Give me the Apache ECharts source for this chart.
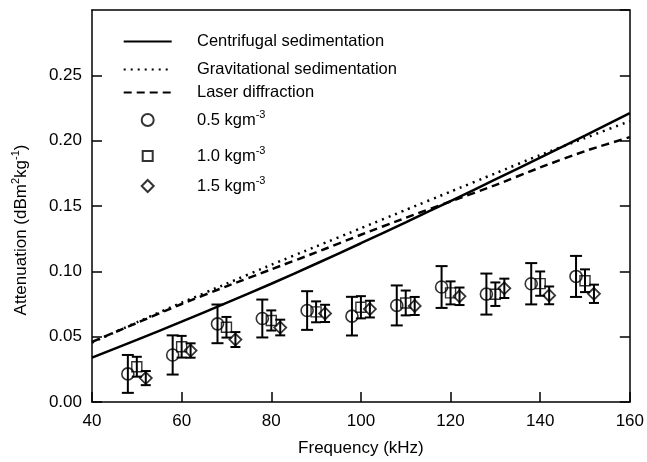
<!DOCTYPE html>
<html>
<head>
<meta charset="utf-8">
<script src="https://cdn.jsdelivr.net/npm/echarts@6/dist/echarts.min.js"></script>
<style>
html,body{margin:0;padding:0;background:#fff;}
#chart{width:647px;height:462px;}
</style>
</head>
<body>
<div id="chart"></div>
<script>
// ---- data ----
var curveX = [40, 50, 60, 70, 80, 90, 100, 110, 120, 130, 140, 150, 160];
var centrifugal = [0.034, 0.0475, 0.0615, 0.0758, 0.0905, 0.1058, 0.1215, 0.1375, 0.1538, 0.1703, 0.187, 0.2039, 0.221];
var gravitational = [0.0455, 0.061, 0.076, 0.0905, 0.105, 0.119, 0.133, 0.147, 0.161, 0.175, 0.189, 0.202, 0.215];
var laser = [0.046, 0.0605, 0.075, 0.0885, 0.1015, 0.1145, 0.128, 0.141, 0.1535, 0.166, 0.1795, 0.192, 0.2027];

var xCircle = [48, 58, 68, 78, 88, 98, 108, 118, 128, 138, 148];
var yCircle = [0.0215, 0.036, 0.0598, 0.0639, 0.0700, 0.0657, 0.0739, 0.0880, 0.0826, 0.0905, 0.0961];
var eCircle = [0.0145, 0.0150, 0.0148, 0.0145, 0.0148, 0.0148, 0.0153, 0.0160, 0.0157, 0.0158, 0.0157];

var xSquare = [50, 60, 70, 80, 90, 100, 110, 120, 130, 140, 150];
var ySquare = [0.0270, 0.0423, 0.0572, 0.0624, 0.0690, 0.0725, 0.0758, 0.0835, 0.0825, 0.0906, 0.0928];
var eSquare = [0.0076, 0.0083, 0.0079, 0.0077, 0.0080, 0.0085, 0.0095, 0.0088, 0.0090, 0.0093, 0.0087];

var xDiamond = [52, 62, 72, 82, 92, 102, 112, 122, 132, 142, 152];
var yDiamond = [0.0183, 0.0394, 0.0478, 0.0570, 0.0678, 0.0711, 0.0735, 0.0809, 0.0870, 0.0816, 0.0828];
var eDiamond = [0.0054, 0.0055, 0.0057, 0.0060, 0.0066, 0.0064, 0.0069, 0.0067, 0.0074, 0.0068, 0.0070];

var xTicks = [40, 60, 80, 100, 120, 140, 160];
var yTicks = [0.00, 0.05, 0.10, 0.15, 0.20, 0.25];

// ---- build ----
function pairs(xs, ys) { return xs.map(function (x, i) { return [x, ys[i]]; }); }
function triples(xs, ys, es) { return xs.map(function (x, i) { return [x, ys[i], es[i]]; }); }

var FONT = 'Liberation Sans, Arial, Helvetica, sans-serif';
var BLACK = '#000';

function errRender(capW) {
  return function (params, api) {
    var x = api.value(0), y = api.value(1), e = api.value(2);
    var t = api.coord([x, y + e]);
    var b = api.coord([x, y - e]);
    var h = capW / 2;
    var st = { stroke: BLACK, lineWidth: 2 };
    return {
      type: 'group',
      children: [
        { type: 'line', shape: { x1: t[0], y1: t[1], x2: b[0], y2: b[1] }, style: st },
        { type: 'line', shape: { x1: t[0] - h, y1: t[1], x2: t[0] + h, y2: t[1] }, style: st },
        { type: 'line', shape: { x1: b[0] - h, y1: b[1], x2: b[0] + h, y2: b[1] }, style: st }
      ]
    };
  };
}

var supRich = { sup: { fontSize: 11, fontFamily: FONT, color: BLACK, padding: [0, 0, 11, 0] } };
var TEXT_X = 196;

// cx: icon centre x, w/h: icon size, isLine: hide symbol
function legendAt(name, top, cx, w, h, isLine, fmt) {
  var left = cx - w / 2;
  var o = {
    data: [isLine ? { name: name, itemStyle: { opacity: 0 } } : name],
    orient: 'vertical',
    left: left,
    top: top,
    padding: 0,
    itemWidth: w,
    itemHeight: h,
    itemGap: 0,
    selectedMode: false,
    textStyle: { fontFamily: FONT, fontSize: 16.5, color: BLACK, padding: [0, 0, 0, TEXT_X - left - w - 5], rich: supRich }
  };
  if (fmt) o.formatter = fmt;
  return o;
}

var option = {
  animation: false,
  backgroundColor: '#fff',
  grid: { left: 92, right: 15, top: 10, bottom: 60 },
  legend: [
    legendAt('Centrifugal sedimentation', 33, 146.7, 48, 20, true),
    legendAt('Gravitational sedimentation', 61, 146.7, 48, 20, true),
    legendAt('Laser diffraction', 84, 146.7, 48, 20, true),
    legendAt('0.5 kgm-3', 109, 146.7, 12, 12, false, function () { return '0.5 kgm{sup|-3}'; }),
    legendAt('1.0 kgm-3', 145, 146.7, 10, 10, false, function () { return '1.0 kgm{sup|-3}'; }),
    legendAt('1.5 kgm-3', 175, 146.7, 12, 12, false, function () { return '1.5 kgm{sup|-3}'; })
  ],
  xAxis: [{
    type: 'value', min: 40, max: 160, interval: 20, position: 'bottom',
    name: 'Frequency (kHz)', nameLocation: 'middle', nameGap: 38,
    nameTextStyle: { fontFamily: FONT, fontSize: 17, color: BLACK },
    axisLine: { show: true, onZero: false, lineStyle: { color: BLACK, width: 1.5 } },
    axisTick: { show: true, inside: true, length: 10, lineStyle: { color: BLACK, width: 1.5 } },
    axisLabel: { fontFamily: FONT, fontSize: 17, color: BLACK, margin: 11,
      formatter: function (v) { return xTicks.indexOf(v) >= 0 ? String(v) : ''; } },
    splitLine: { show: false }
  }, {
    type: 'value', min: 40, max: 160, interval: 20, position: 'top',
    axisLine: { show: true, onZero: false, lineStyle: { color: BLACK, width: 1.5 } },
    axisTick: { show: false }, axisLabel: { show: false }, splitLine: { show: false }
  }],
  yAxis: [{
    type: 'value', min: 0, max: 0.30, interval: 0.05, position: 'left',
    name: 'Attenuation (dBm{sup|2}kg{sup|-1})', nameLocation: 'middle', nameGap: 60,
    nameTextStyle: { fontFamily: FONT, fontSize: 17, color: BLACK, padding: [0, 48, 0, 0],
      rich: { sup: { fontSize: 11, fontFamily: FONT, color: BLACK, padding: [0, 0, 11, 0] } } },
    axisLine: { show: true, onZero: false, lineStyle: { color: BLACK, width: 1.5 } },
    axisTick: { show: true, inside: true, length: 10, lineStyle: { color: BLACK, width: 1.5 } },
    axisLabel: { fontFamily: FONT, fontSize: 17, color: BLACK, margin: 10, showMaxLabel: false,
      formatter: function (v) {
        for (var i = 0; i < yTicks.length; i++) { if (Math.abs(yTicks[i] - v) < 1e-9) return yTicks[i].toFixed(2); }
        return '';
      } },
    splitLine: { show: false }
  }, {
    type: 'value', min: 0, max: 0.30, interval: 0.05, position: 'right',
    axisLine: { show: true, onZero: false, lineStyle: { color: BLACK, width: 1.5 } },
    axisTick: { show: true, inside: true, length: 10, lineStyle: { color: BLACK, width: 1.5 } },
    axisLabel: { show: false }, splitLine: { show: false }
  }],
  series: [
    { name: 'Centrifugal sedimentation', type: 'line', data: pairs(curveX, centrifugal), showSymbol: false, symbol: 'none',
      smooth: 0.2, lineStyle: { color: BLACK, width: 2.5, type: 'solid' }, itemStyle: { color: BLACK }, z: 3 },
    { name: 'Gravitational sedimentation', type: 'line', data: pairs(curveX, gravitational), showSymbol: false, symbol: 'none',
      smooth: 0.2, lineStyle: { color: BLACK, width: 2.5, type: [2, 5] }, itemStyle: { color: BLACK }, z: 3 },
    { name: 'Laser diffraction', type: 'line', data: pairs(curveX, laser), showSymbol: false, symbol: 'none',
      smooth: 0.2, lineStyle: { color: BLACK, width: 2.5, type: [8, 5] }, itemStyle: { color: BLACK }, z: 3 },
    { name: 'err05', type: 'custom', renderItem: errRender(12), data: triples(xCircle, yCircle, eCircle),
      encode: { x: 0, y: [1] }, z: 4 },
    { name: 'err10', type: 'custom', renderItem: errRender(10), data: triples(xSquare, ySquare, eSquare),
      encode: { x: 0, y: [1] }, z: 4 },
    { name: 'err15', type: 'custom', renderItem: errRender(10), data: triples(xDiamond, yDiamond, eDiamond),
      encode: { x: 0, y: [1] }, z: 4 },
    { name: '0.5 kgm-3', type: 'scatter', data: pairs(xCircle, yCircle), symbol: 'circle', symbolSize: 12,
      itemStyle: { color: 'rgba(0,0,0,0)', borderColor: BLACK, borderWidth: 1.6 }, z: 5 },
    { name: '1.0 kgm-3', type: 'scatter', data: pairs(xSquare, ySquare), symbol: 'rect', symbolSize: 10,
      itemStyle: { color: 'rgba(0,0,0,0)', borderColor: BLACK, borderWidth: 1.4 }, z: 5 },
    { name: '1.5 kgm-3', type: 'scatter', data: pairs(xDiamond, yDiamond), symbol: 'diamond', symbolSize: 12,
      itemStyle: { color: 'rgba(0,0,0,0)', borderColor: BLACK, borderWidth: 1.8 }, z: 5 }
  ]
};

var chart = echarts.init(document.getElementById('chart'), null, { renderer: 'canvas' });
chart.setOption(option);
</script>
</body>
</html>
